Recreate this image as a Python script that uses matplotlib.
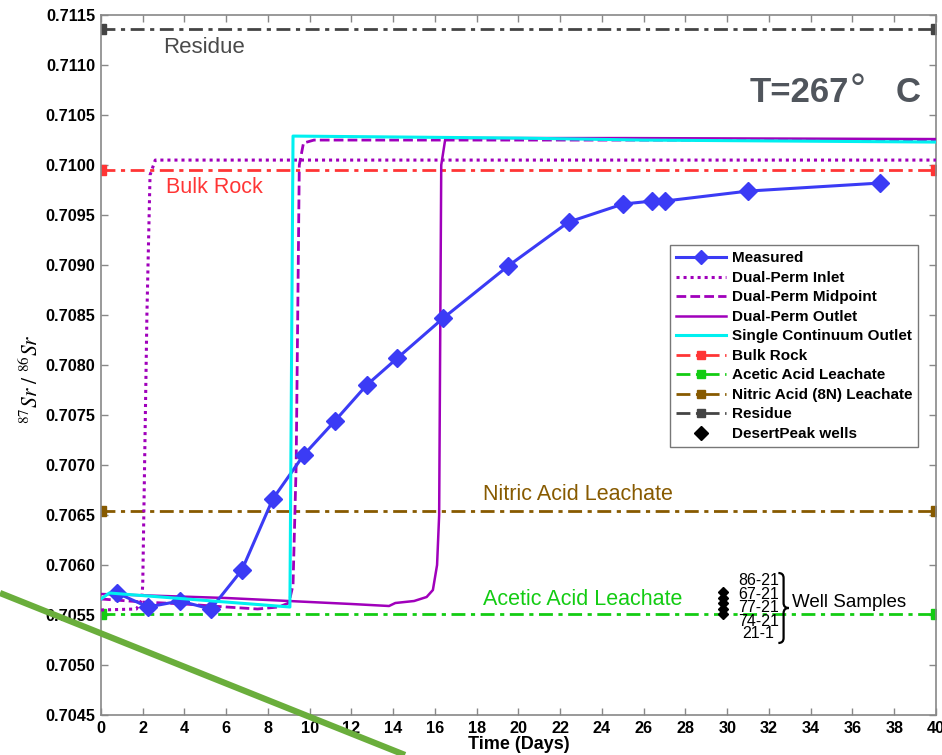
import numpy as np
import matplotlib
matplotlib.use("Agg")
import matplotlib.pyplot as plt
from matplotlib.lines import Line2D
from matplotlib.path import Path
from matplotlib.patches import PathPatch

plt.rcParams['font.family'] = ['Liberation Sans', 'DejaVu Sans']
plt.rcParams['mathtext.fontset'] = 'stix'

# measured Sr ratio
t_meas = [0.77, 2.25, 3.78, 5.26, 6.75, 8.23, 9.71, 11.2, 12.73, 14.2,
          16.4, 19.5, 22.4, 25.0, 26.4, 27.0, 31.0, 37.3]
sr_meas = [0.70572, 0.70558, 0.70564, 0.70556, 0.70595, 0.70666, 0.70710,
           0.70744, 0.70780, 0.70807, 0.70847, 0.70899, 0.70943, 0.70961,
           0.70964, 0.70964, 0.70974, 0.70982]

# model curves (read at breakpoints)
t_inlet = [0, 1.7, 1.95, 2.0, 2.2, 2.35, 2.6, 40]
sr_inlet = [0.70555, 0.70556, 0.70565, 0.7058, 0.7085, 0.7099, 0.71005, 0.71005]

t_mid = [0, 2, 4, 6, 7.5, 8.5, 9.0, 9.2, 9.35, 9.5, 9.7, 10.2, 40]
sr_mid = [0.70566, 0.70563, 0.70561, 0.70558, 0.70556, 0.70558, 0.70562,
          0.7058, 0.7070, 0.7100, 0.71022, 0.71025, 0.71025]

t_out = [0, 3, 6, 9, 12, 13.8, 14.1, 15, 15.6, 15.9, 16.1, 16.2, 16.3, 16.5, 25, 40]
sr_out = [0.70571, 0.70569, 0.70567, 0.70564, 0.70561, 0.70559, 0.70562,
          0.70564, 0.70568, 0.70575, 0.7060, 0.7065, 0.7100, 0.71027,
          0.71027, 0.71026]

t_single = [0, 0.4, 9.05, 9.2, 20, 26, 40]
sr_single = [0.70566, 0.70572, 0.70558, 0.71029, 0.71027, 0.71025, 0.71023]

# reference levels
bulk_rock = 0.70995
acetic = 0.70551
nitric = 0.70654
residue = 0.71136

# well samples
well_t = [29.8, 29.8, 29.8, 29.8, 29.8]
well_sr = [0.70573, 0.70567, 0.70562, 0.70556, 0.70551]
well_names = ["86-21", "67-21", "77-21", "74-21", "21-1"]
well_label_y = [0.70585, 0.70571, 0.70558, 0.70544, 0.70531]

c_blue = '#3b3bf5'
c_purple = '#a000bb'
c_cyan = '#00f0f0'
c_red = '#ff3535'
c_green = '#13cc13'
c_brown = '#875a00'
c_gray = '#444444'

fig = plt.figure(figsize=(9.42, 7.55), dpi=100)
ax = fig.add_axes([0.1072, 0.053, 0.8864, 0.927])

dashdot = (0, (5, 2, 1.5, 2))

ax.plot(t_meas, sr_meas, '-D', color=c_blue, lw=2.2, ms=9, label='Measured', zorder=4)
ax.plot(t_inlet, sr_inlet, color=c_purple, lw=2.2, ls=(0, (1, 1.3)), label='Dual-Perm Inlet', zorder=3)
ax.plot(t_mid, sr_mid, color=c_purple, lw=2.0, ls=(0, (3.5, 1.5)), label='Dual-Perm Midpoint', zorder=3)
ax.plot(t_out, sr_out, color=c_purple, lw=1.8, label='Dual-Perm Outlet', zorder=3)
ax.plot(t_single, sr_single, color=c_cyan, lw=2.2, label='Single Continuum Outlet', zorder=5)
ax.plot([0, 40], [bulk_rock] * 2, color=c_red, lw=2, ls=dashdot, marker='s', ms=7, label='Bulk Rock', zorder=2)
ax.plot([0, 40], [acetic] * 2, color=c_green, lw=2, ls=dashdot, marker='s', ms=7, label='Acetic Acid Leachate', zorder=2)
ax.plot([0, 40], [nitric] * 2, color=c_brown, lw=2, ls=dashdot, marker='s', ms=7, label='Nitric Acid (8N) Leachate', zorder=2)
ax.plot([0, 40], [residue] * 2, color=c_gray, lw=2, ls=dashdot, marker='s', ms=7, label='Residue', zorder=2)
ax.plot(well_t, well_sr, 'D', color='black', ms=5, ls='none', label='DesertPeak wells', zorder=6)

ax.set_xlim(0, 40)
ax.set_ylim(0.7045, 0.7115)
ax.set_xticks(np.arange(0, 41, 2))
ax.set_yticks(np.arange(0.7045, 0.71151, 0.0005))
ax.yaxis.set_major_formatter(matplotlib.ticker.FormatStrFormatter('%.4f'))
ax.tick_params(direction='in', top=True, right=True, length=5, width=1,
               color='#888888', pad=4, labelsize=11.7)
for lab in ax.get_xticklabels() + ax.get_yticklabels():
    lab.set_fontweight('bold')
for sp in ax.spines.values():
    sp.set_color('#888888')
    sp.set_linewidth(1.2)

ax.set_xlabel('Time (Days)', fontsize=13, fontweight='bold', labelpad=0)
ax.set_ylabel(r'$^{87}Sr\ /\ ^{86}Sr$', fontsize=15.5)
ax.yaxis.set_label_coords(-0.07, 0.48)

# in-plot labels
ax.text(3.0, 0.71128, 'Residue', color='#4a4a4a', fontsize=16, va='top')
ax.text(3.1, 0.70988, 'Bulk Rock', color=c_red, fontsize=15.5, va='top')
ax.text(18.3, 0.70660, 'Nitric Acid Leachate', color=c_brown, fontsize=15.5, va='bottom')
ax.text(18.3, 0.70555, 'Acetic Acid Leachate', color=c_green, fontsize=15.5, va='bottom')

ax.text(31.05, 0.71063, 'T=267', color='#50555c', fontsize=25, fontweight='bold',
        va='baseline')
ax.text(35.85, 0.71063, '°', color='#50555c', fontsize=29, va='baseline')
ax.text(38.05, 0.71063, 'C', color='#50555c', fontsize=25, fontweight='bold',
        va='baseline')

for name, yv in zip(well_names, well_label_y):
    ax.text(31.5, yv, name, fontsize=11.5, ha='center', va='center', zorder=7)

# curly brace
x0, w = 32.45, 0.5
yt, yb = 0.70592, 0.70522
ym = (yt + yb) / 2
d = 0.00005
verts = [(x0, yt), (x0 + w / 2, yt), (x0 + w / 2, yt - d),
         (x0 + w / 2, ym + d),
         (x0 + w / 2, ym), (x0 + w, ym),
         (x0 + w / 2, ym), (x0 + w / 2, ym - d),
         (x0 + w / 2, yb + d),
         (x0 + w / 2, yb), (x0, yb)]
codes = [Path.MOVETO, Path.CURVE3, Path.CURVE3, Path.LINETO,
         Path.CURVE3, Path.CURVE3, Path.CURVE3, Path.CURVE3,
         Path.LINETO, Path.CURVE3, Path.CURVE3]
ax.add_patch(PathPatch(Path(verts, codes), fill=False, lw=1.6, color='black', zorder=7))
ax.text(33.1, 0.70563, 'Well Samples', fontsize=13.5, va='center', zorder=7)

leg = ax.legend(loc='upper right', bbox_to_anchor=(0.979, 0.671), numpoints=1,
                prop={'weight': 'bold', 'size': 11}, fancybox=False,
                edgecolor='#777777', framealpha=1, handlelength=3.3,
                labelspacing=0.36, borderpad=0.4, handletextpad=0.35,
                borderaxespad=0.0)
leg.get_frame().set_linewidth(1.0)
for h in leg.legend_handles:
    if h.get_marker() in ('s', 'D'):
        h.set_markersize(7 if h.get_marker() == 'D' else 6)

# green stroke over the lower left corner
fig.add_artist(Line2D([0, 405 / 942], [1 - 593 / 755, 0], transform=fig.transFigure,
                      color='#6aae3c', lw=4.5, solid_capstyle='butt', zorder=10))

fig.savefig('out.png', dpi=100)
